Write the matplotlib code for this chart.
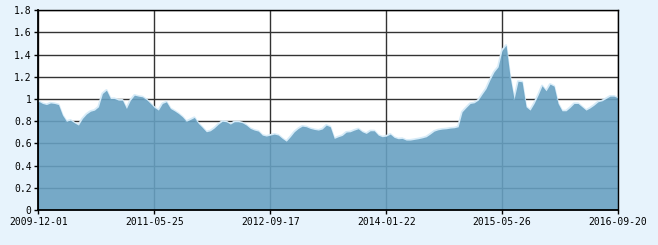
import numpy as np
import matplotlib
matplotlib.use("Agg")
import matplotlib.pyplot as plt

## Données (valeurs à pas constant, indice de séance)
valeurs_1 = [0.98, 0.96, 0.95, 0.965, 0.96, 0.95, 0.855, 0.80, 0.81, 0.785,
             0.765, 0.825, 0.865, 0.89, 0.90, 0.93, 1.05, 1.08, 1.005, 1.005,
             0.99, 0.99, 0.915, 0.99, 1.035]
valeurs_2 = [1.026, 1.02, 0.996, 0.96, 0.924, 0.90, 0.96, 0.975, 0.915, 0.894,
             0.87, 0.84, 0.80, 0.816, 0.834, 0.78, 0.744, 0.705, 0.714, 0.74,
             0.774, 0.80, 0.795, 0.774]
valeurs_3 = [0.795, 0.795, 0.786, 0.765, 0.735, 0.72, 0.711, 0.675, 0.666, 0.675,
             0.684, 0.675, 0.645, 0.62, 0.66, 0.705, 0.735, 0.756, 0.75, 0.735,
             0.726, 0.72, 0.73, 0.765]
valeurs_4 = [0.75, 0.645, 0.66, 0.672, 0.702, 0.705, 0.72, 0.732, 0.705, 0.69,
             0.714, 0.714, 0.675, 0.66, 0.666, 0.684, 0.654, 0.642, 0.645, 0.63,
             0.63, 0.636, 0.642, 0.65, 0.66]
valeurs_5 = [0.684, 0.711, 0.723, 0.729, 0.732, 0.738, 0.741, 0.75, 0.885, 0.924,
             0.96, 0.966, 0.99, 1.044, 1.095, 1.176, 1.245, 1.29, 1.44, 1.485,
             1.2, 1.0, 1.16, 1.155, 0.93]
valeurs_6 = [0.90, 0.96, 1.035, 1.12, 1.074, 1.134, 1.116, 0.96, 0.894, 0.894,
             0.924, 0.96, 0.96, 0.93, 0.90, 0.92, 0.945, 0.975, 0.984, 1.005,
             1.026, 1.026, 1.01]

dates = ['2009-12-01', '2011-05-25', '2012-09-17', '2014-01-22', '2015-05-26', '2016-09-20']
y_ticks = [0, 0.2, 0.4, 0.6, 0.8, 1, 1.2, 1.4, 1.6, 1.8]
y_labels = ['0', '0.2', '0.4', '0.6', '0.8', '1', '1.2', '1.4', '1.6', '1.8']

serie = np.array(valeurs_1 + valeurs_2 + valeurs_3 + valeurs_4 + valeurs_5 + valeurs_6)
x = np.arange(len(serie))
x_ticks = np.linspace(0, len(serie) - 1, len(dates))

## Figure
fig = plt.figure(figsize=(6.58, 2.45), dpi=100, facecolor='#e7f3fc')
ax = fig.add_axes([0.0585, 0.143, 0.8807, 0.815])
ax.set_facecolor('white')

# liseré clair au dessus de la surface
ax.plot(x, serie, color='#d6ebf8', lw=1.6, zorder=2)
ax.fill_between(x, 0, serie, color='#67a0c1', alpha=0.9, lw=0, zorder=3)

ax.set_xlim(0, len(serie) - 1)
ax.set_ylim(0, 1.8)
ax.set_xticks(x_ticks)
ax.set_xticklabels(dates)
ax.set_yticks(y_ticks)
ax.set_yticklabels(y_labels)

ax.grid(True, color='#333333', lw=1.0, zorder=1)
ax.set_axisbelow(True)
for s in ax.spines.values():
    s.set_color('black')
    s.set_linewidth(1.0)
    s.set_zorder(4)
ax.spines['left'].set_linewidth(1.3)
ax.spines['bottom'].set_linewidth(1.3)

ax.tick_params(length=3, width=1, color='black', labelsize=7, pad=2)
for lab in ax.get_xticklabels() + ax.get_yticklabels():
    lab.set_fontfamily('DejaVu Sans Mono')

fig.savefig('out.png', dpi=100, facecolor=fig.get_facecolor())
